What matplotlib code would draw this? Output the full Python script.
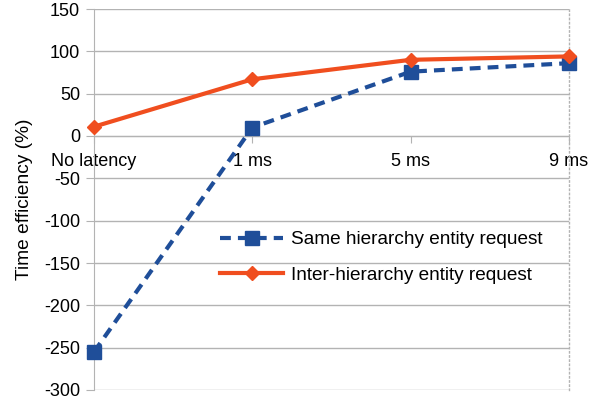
import matplotlib
matplotlib.use("Agg")
import matplotlib.pyplot as plt

categories = ["No latency", "1 ms", "5 ms", "9 ms"]
same_hierarchy = [-255, 10, 76, 86]
inter_hierarchy = [11, 67, 90, 94]
yticks = [150, 100, 50, 0, -50, -100, -150, -200, -250, -300]

plt.rcParams['font.family'] = ['Liberation Sans', 'DejaVu Sans']

fig = plt.figure(figsize=(5.89, 4.01), dpi=100)
ax = fig.add_axes([94/589, 1-390/401, (569-94)/589, (390-9)/401])

x = list(range(len(categories)))
ax.plot(x, same_hierarchy, color='#1f4e99', lw=3, ls=(0, (2.6, 1.7)), marker='s',
        ms=10, label='Same hierarchy entity request', zorder=3, clip_on=False)
ax.plot(x, inter_hierarchy, color='#f04e1f', lw=3, marker='D', ms=7.5,
        label='Inter-hierarchy entity request', zorder=4, clip_on=False)

ax.spines['top'].set_visible(False)
ax.spines['left'].set_color('#b3b3b3')
ax.spines['right'].set_color('#b3b3b3')
ax.spines['right'].set_linestyle((0, (1, 2)))
ax.spines['right'].set_linewidth(1)
ax.spines['bottom'].set_position(('data', 0))
ax.spines['bottom'].set_color('#b3b3b3')

ax.set_xlim(0, len(categories)-1)
ax.set_ylim(-300, 150)
ax.set_yticks(yticks)
ax.set_yticklabels([str(v) for v in yticks])
ax.set_xticks(x)
ax.set_xticklabels(categories)
ax.yaxis.grid(True, color='#b3b3b3', lw=1)
ax.set_axisbelow(True)

ax.tick_params(axis='x', length=5, color='#b3b3b3', pad=7, labelsize=13)
ax.tick_params(axis='y', length=6, color='#b3b3b3', pad=4, labelsize=13)

ax.set_ylabel('Time efficiency (%)', fontsize=13.8, labelpad=8)

ax.legend(loc='upper left', bbox_to_anchor=(0.23, 0.462), frameon=False,
          fontsize=13.7, handlelength=3.3, labelspacing=0.95, handletextpad=0.4)

fig.savefig('out.png', dpi=100)
